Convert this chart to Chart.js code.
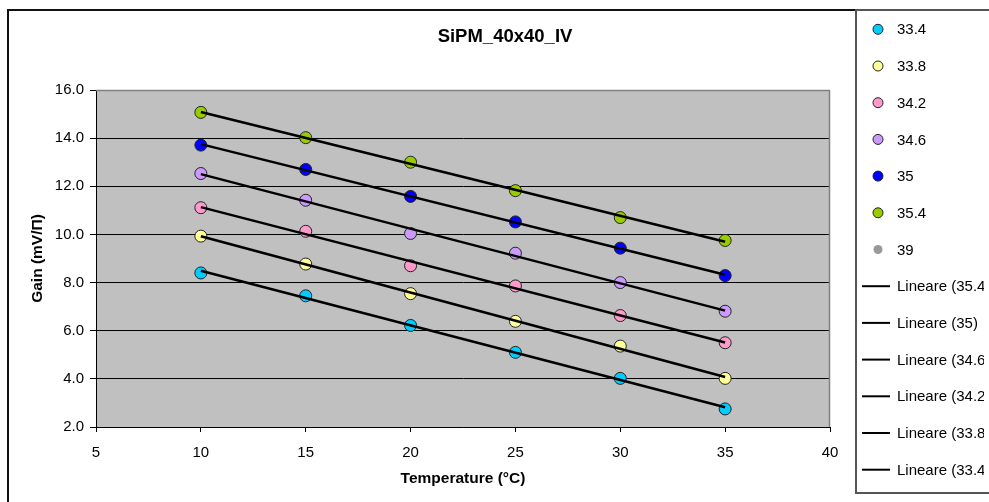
<!DOCTYPE html>
<html lang="en">
<head>
    <meta charset="UTF-8">
    <title>SiPM_40x40_IV</title>
    <style>
        html, body {
            margin: 0;
            padding: 0;
            background: #fff;
        }
        #chart-box {
            width: 989px;
            height: 502px;
        }
    </style>
</head>
<body>
    <div id="chart-box">
        <canvas id="gain-chart"></canvas>
    </div>

    <script src="https://cdn.jsdelivr.net/npm/chart.js"></script>

    <script>
        // temperatures (°C) and gain (mV/pe) for each bias voltage
        const temps = [10, 15, 20, 25, 30, 35];
        const biasLabels = ['33.4', '33.8', '34.2', '34.6', '35', '35.4', '39'];
        const gain334 = [8.40, 7.45, 6.22, 5.10, 4.02, 2.75];
        const gain338 = [9.93, 8.77, 7.54, 6.39, 5.36, 4.02];
        const gain342 = [11.11, 10.13, 8.70, 7.86, 6.63, 5.50];
        const gain346 = [12.53, 11.42, 10.04, 9.22, 8.00, 6.81];
        const gain350 = [13.71, 12.70, 11.58, 10.52, 9.43, 8.29];
        const gain354 = [15.07, 14.02, 13.00, 11.82, 10.70, 9.75];
        const gain390 = [];
        const xTicks = [5, 10, 15, 20, 25, 30, 35, 40];
        const yTicks = [2, 4, 6, 8, 10, 12, 14, 16];

        const allGains = [gain334, gain338, gain342, gain346, gain350, gain354, gain390];
        const markerColors = ['#00CCFF', '#FFFF99', '#FF99CC', '#CC99FF', '#0000FF', '#99CC00', '#999999'];

        const FONT = "'Liberation Sans', Arial, sans-serif";

        function toPoints(ys) {
            return ys.map((y, i) => ({ x: temps[i], y: y }));
        }

        // least squares line, like Excel's linear trendline
        function trendLine(ys) {
            const n = ys.length;
            const xs = temps.slice(0, n);
            const mx = xs.reduce((a, b) => a + b, 0) / n;
            const my = ys.reduce((a, b) => a + b, 0) / n;
            let sxy = 0, sxx = 0;
            xs.forEach((x, i) => {
                sxy += (x - mx) * (ys[i] - my);
                sxx += (x - mx) * (x - mx);
            });
            const slope = sxy / sxx;
            const icpt = my - slope * mx;
            return [xs[0], xs[n - 1]].map(x => ({ x: x, y: icpt + slope * x }));
        }

        const datasets = [];
        allGains.forEach((g, i) => {
            const isEmpty = g.length === 0;
            datasets.push({
                type: 'scatter',
                label: biasLabels[i],
                data: toPoints(g),
                backgroundColor: markerColors[i],
                borderColor: isEmpty ? markerColors[i] : '#222',
                borderWidth: isEmpty ? 0 : 1,
                pointRadius: 6,
                pointHoverRadius: 6,
                order: 2
            });
        });
        // trendlines, listed from the highest bias down
        for (let i = 5; i >= 0; i--) {
            datasets.push({
                type: 'scatter',
                label: 'Lineare (' + biasLabels[i] + ')',
                data: trendLine(allGains[i]),
                showLine: true,
                borderColor: '#000',
                borderWidth: 2.5,
                pointRadius: 0,
                pointHoverRadius: 0,
                isTrend: true,
                order: 1
            });
        }

        const plotFrame = {
            id: 'plotFrame',
            beforeDraw(chart) {
                const { ctx, chartArea: a } = chart;
                ctx.save();
                ctx.fillStyle = '#C0C0C0';
                ctx.fillRect(a.left, a.top, a.right - a.left, a.bottom - a.top);
                ctx.restore();
            },
            beforeDatasetsDraw(chart) {
                const { ctx, chartArea: a } = chart;
                ctx.save();
                ctx.strokeStyle = '#808080';
                ctx.lineWidth = 1.5;
                ctx.beginPath();
                ctx.moveTo(a.left, a.top + 0.5);
                ctx.lineTo(a.right - 0.5, a.top + 0.5);
                ctx.lineTo(a.right - 0.5, a.bottom);
                ctx.stroke();
                ctx.restore();
            }
        };

        const sideLegend = {
            id: 'sideLegend',
            afterDraw(chart) {
                const ctx = chart.ctx;
                ctx.save();
                // chart frame
                ctx.strokeStyle = '#111';
                ctx.lineWidth = 2;
                ctx.strokeRect(8, 10, 1100, 600);
                // legend box
                ctx.strokeStyle = '#555';
                ctx.lineWidth = 2;
                ctx.strokeRect(856, 10, 200, 483);

                // the legend text is cut off at the right edge
                ctx.beginPath();
                ctx.rect(857, 11, 127, 480);
                ctx.clip();

                ctx.font = '15px ' + FONT;
                ctx.textBaseline = 'middle';
                ctx.textAlign = 'left';
                chart.data.datasets.forEach((ds, i) => {
                    const y = 29.3 + i * 36.7;
                    if (ds.isTrend) {
                        ctx.strokeStyle = '#000';
                        ctx.lineWidth = 2;
                        ctx.beginPath();
                        ctx.moveTo(862, y);
                        ctx.lineTo(890, y);
                        ctx.stroke();
                    } else {
                        ctx.beginPath();
                        ctx.arc(878, y, ds.borderWidth ? 5 : 4.5, 0, Math.PI * 2);
                        ctx.fillStyle = ds.backgroundColor;
                        ctx.fill();
                        if (ds.borderWidth) {
                            ctx.strokeStyle = '#222';
                            ctx.lineWidth = 1;
                            ctx.stroke();
                        }
                    }
                    ctx.fillStyle = '#000';
                    ctx.fillText(ds.label, 897, y + 1);
                });
                ctx.restore();
            }
        };

        const ctx = document.getElementById('gain-chart').getContext('2d');
        new Chart(ctx, {
            type: 'scatter',
            data: { datasets: datasets },
            options: {
                responsive: true,
                maintainAspectRatio: false,
                animation: false,
                events: [],
                layout: {
                    padding: { left: 21, right: 0, top: 0, bottom: 0 }
                },
                plugins: {
                    legend: { display: false },
                    tooltip: { enabled: false },
                    title: {
                        display: true,
                        text: 'SiPM_40x40_IV',
                        color: '#000',
                        font: { family: FONT, size: 18.5, weight: 'bold' },
                        padding: { top: 25.9, bottom: 41.9 }
                    }
                },
                scales: {
                    x: {
                        type: 'linear',
                        min: 5,
                        max: 40,
                        afterFit(scale) { scale.height = 75; },
                        afterBuildTicks(scale) { scale.ticks = xTicks.map(v => ({ value: v })); },
                        ticks: {
                            color: '#000',
                            padding: 12,
                            font: { family: FONT, size: 15 }
                        },
                        grid: {
                            drawOnChartArea: false,
                            tickColor: '#000',
                            tickLength: 5
                        },
                        border: { color: '#000', width: 1 },
                        title: {
                            display: true,
                            text: 'Temperature (°C)',
                            color: '#000',
                            font: { family: FONT, size: 15.5, weight: 'bold' },
                            padding: { top: 0, bottom: 13.7 }
                        }
                    },
                    y: {
                        type: 'linear',
                        min: 2,
                        max: 16,
                        afterFit(scale) { scale.width = 75; },
                        afterBuildTicks(scale) { scale.ticks = yTicks.map(v => ({ value: v })); },
                        ticks: {
                            color: '#000',
                            padding: 6,
                            font: { family: FONT, size: 15 },
                            callback: v => v.toFixed(1)
                        },
                        grid: {
                            color: c => (c.tick && c.tick.value === 16) ? '#808080' : '#000',
                            tickColor: '#000',
                            lineWidth: 1,
                            tickLength: 6
                        },
                        border: { color: '#000', width: 1 },
                        title: {
                            display: true,
                            text: 'Gain (mV/Π)',
                            color: '#000',
                            font: { family: FONT, size: 15.5, weight: 'bold' },
                            padding: { top: 7.2, bottom: 0 }
                        }
                    },
                    // empty right-hand strip that leaves room for the legend box
                    legendSpace: {
                        type: 'linear',
                        position: 'right',
                        afterFit(scale) { scale.width = 159; },
                        ticks: { display: false },
                        grid: { display: false },
                        border: { display: false }
                    }
                }
            },
            plugins: [plotFrame, sideLegend]
        });
    </script>
</body>
</html>
